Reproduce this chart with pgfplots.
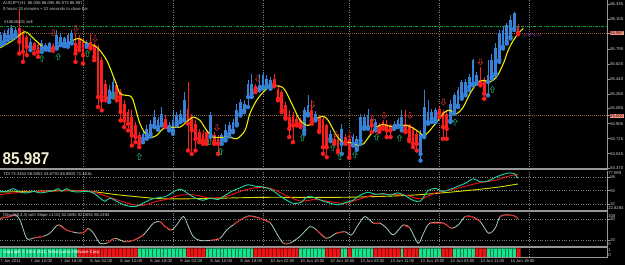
\documentclass[border=0pt]{standalone}
\usepackage{pgfplots}
\pgfplotsset{compat=1.18}
\usepackage{pgfplotstable}
\usepackage{fontspec}
\setmainfont{Liberation Sans}

\definecolor{bull}{RGB}{55,130,215}
\definecolor{bear}{RGB}{250,30,30}
\definecolor{ma}{RGB}{235,235,0}
\definecolor{sep}{RGB}{150,150,150}
\definecolor{gridc}{RGB}{130,130,130}
\definecolor{lbl}{RGB}{205,205,205}
\definecolor{tdigreen}{RGB}{30,215,165}
\definecolor{tdired}{RGB}{240,20,20}
\definecolor{tdiyellow}{RGB}{220,220,0}
\definecolor{stochc}{RGB}{165,205,180}
\definecolor{hgreen}{RGB}{20,228,140}
\definecolor{hred}{RGB}{240,20,20}
\definecolor{upc}{RGB}{30,150,90}
\definecolor{dnc}{RGB}{180,45,45}
\definecolor{levelc}{RGB}{150,90,50}
\definecolor{entry}{RGB}{20,160,60}
\definecolor{hilite}{RGB}{240,150,130}
\definecolor{cream}{RGB}{245,240,210}
\definecolor{purp}{RGB}{150,60,170}

\newcommand{\tinyf}{\fontsize{4.2}{4.6}\selectfont}

\pgfdeclareplotmark{uparr}{%
  \pgfpathmoveto{\pgfqpoint{0pt}{3.2pt}}%
  \pgfpathlineto{\pgfqpoint{2.3pt}{0.6pt}}%
  \pgfpathlineto{\pgfqpoint{0.9pt}{0.6pt}}%
  \pgfpathlineto{\pgfqpoint{0.9pt}{-3pt}}%
  \pgfpathlineto{\pgfqpoint{-0.9pt}{-3pt}}%
  \pgfpathlineto{\pgfqpoint{-0.9pt}{0.6pt}}%
  \pgfpathlineto{\pgfqpoint{-2.3pt}{0.6pt}}%
  \pgfpathclose\pgfusepathqstroke}
\pgfdeclareplotmark{dnarr}{%
  \pgfpathmoveto{\pgfqpoint{0pt}{-3.2pt}}%
  \pgfpathlineto{\pgfqpoint{2.3pt}{-0.6pt}}%
  \pgfpathlineto{\pgfqpoint{0.9pt}{-0.6pt}}%
  \pgfpathlineto{\pgfqpoint{0.9pt}{3pt}}%
  \pgfpathlineto{\pgfqpoint{-0.9pt}{3pt}}%
  \pgfpathlineto{\pgfqpoint{-0.9pt}{-0.6pt}}%
  \pgfpathlineto{\pgfqpoint{-2.3pt}{-0.6pt}}%
  \pgfpathclose\pgfusepathqstroke}

\pgfplotsset{mtaxis/.style={
  scale only axis, width=607.5pt, anchor=south west,
  xmin=-0.133, xmax=161.87,
  axis x line*=bottom, axis y line*=right,
  x axis line style={draw=sep, line width=1.6pt, -},
  y axis line style={draw=sep, line width=0.8pt, -},
  xtick=\empty,
  extra x ticks={22,46,70,93,117,141},
  extra x tick labels={},
  extra x tick style={grid=major, major tick length=0pt},
  major grid style={draw=gridc, line width=0.5pt, dash pattern=on 0.8pt off 1.6pt},
  tick align=outside, major tick length=2pt,
  tick style={draw=sep, line width=0.4pt},
  yticklabel style={font=\tinyf, text=lbl, inner sep=0.6pt},
  xticklabel style={font=\tinyf, text=lbl, inner sep=0.6pt},
}}

\pgfplotstableread{
x o h l c
0 85.863 86.003 85.843 85.963
1 85.883 86.023 85.863 85.983
2 85.943 86.043 85.903 86.023
3 85.963 86.083 85.923 86.043
4 85.975 86.063 85.943 86.023
8 85.823 85.923 85.783 85.883
11 85.803 85.903 85.763 85.863
12 85.815 85.863 85.791 85.843
13 85.815 85.883 85.783 85.863
15 85.823 86.023 85.803 85.963
16 85.871 85.983 85.843 85.943
17 85.863 85.943 85.831 85.923
18 85.863 85.983 85.823 85.963
19 85.883 86.023 85.863 85.983
23 85.843 85.903 85.823 85.883
29 85.203 85.363 85.163 85.303
30 85.263 85.443 85.223 85.403
38 84.723 84.823 84.683 84.783
39 84.763 84.883 84.723 84.843
40 84.783 84.943 84.751 84.903
41 84.883 85.063 84.863 84.983
42 84.863 84.983 84.831 84.943
43 84.903 85.103 84.883 85.023
45 84.843 84.923 84.823 84.883
46 84.823 85.063 84.783 84.943
47 84.903 85.043 84.883 85.003
48 84.943 85.063 84.923 85.023
49 84.963 85.283 84.943 85.183
56 84.763 85.043 84.743 85.003
59 84.703 84.791 84.663 84.763
60 84.723 84.903 84.703 84.823
61 84.783 84.923 84.751 84.883
62 84.823 84.963 84.803 84.923
63 84.903 85.143 84.883 85.063
64 85.023 85.203 85.003 85.163
65 85.063 85.183 85.043 85.143
66 85.223 85.423 85.103 85.383
67 85.263 85.503 85.223 85.383
69 85.323 85.503 85.303 85.363
70 85.343 85.523 85.323 85.483
71 85.363 85.483 85.343 85.443
72 85.343 85.463 85.323 85.423
81 84.823 85.103 84.783 85.063
82 85.023 85.243 85.003 85.123
84 84.963 85.055 84.943 85.023
88 84.723 84.823 84.695 84.783
91 84.663 84.903 84.543 84.843
94 84.663 84.775 84.643 84.743
95 84.623 84.751 84.591 84.723
96 84.703 85.023 84.663 84.983
97 84.863 85.015 84.843 84.983
98 84.863 85.083 84.843 85.003
100 84.843 84.963 84.823 84.923
105 84.863 84.935 84.843 84.903
106 84.883 84.975 84.863 84.943
107 84.863 85.063 84.823 84.983
112 84.543 84.823 84.463 84.783
113 84.763 85.303 84.743 85.103
114 84.923 85.183 84.903 85.043
115 84.963 85.083 84.923 85.043
116 84.943 85.095 84.923 85.063
120 84.943 85.183 84.923 85.143
121 85.043 85.271 85.023 85.243
122 85.123 85.343 85.103 85.303
123 85.223 85.431 85.203 85.403
124 85.263 85.443 85.243 85.403
125 85.343 85.503 85.303 85.463
126 85.383 85.683 85.363 85.663
127 85.403 85.523 85.383 85.483
130 85.403 85.663 85.243 85.483
131 85.463 85.743 85.443 85.663
132 85.503 85.863 85.483 85.803
133 85.663 86.023 85.643 85.983
134 85.823 86.063 85.803 86.023
135 85.883 86.103 85.863 86.083
136 85.943 86.203 85.923 86.143
137 86.043 86.243 86.023 86.223
}\bulltab

\pgfplotstableread{
x o h l c
5 86.043 86.263 85.743 85.883
6 85.983 86.023 85.643 85.763
7 85.943 85.963 85.723 85.823
9 85.863 85.883 85.743 85.803
10 85.843 85.883 85.703 85.763
14 85.843 85.863 85.775 85.803
20 85.863 85.983 85.643 85.743
21 85.923 85.963 85.783 85.823
22 85.883 85.923 85.623 85.723
24 85.883 85.983 85.803 85.831
25 85.843 85.863 85.663 85.703
26 85.823 85.843 85.103 85.223
27 85.663 85.703 85.063 85.183
28 85.383 85.423 85.183 85.223
31 85.363 85.403 85.183 85.223
32 85.283 85.323 84.943 85.043
33 85.143 85.183 84.863 84.943
34 85.043 85.083 84.823 84.903
35 84.983 85.063 84.643 84.763
36 84.883 84.923 84.683 84.743
37 84.763 84.803 84.623 84.663
44 84.963 85.003 84.863 84.883
50 85.083 85.403 84.583 84.903
51 84.983 85.023 84.543 84.823
52 84.903 84.943 84.583 84.723
53 84.803 84.843 84.683 84.723
54 84.783 84.823 84.663 84.703
55 84.803 84.843 84.663 84.695
57 84.763 84.803 84.663 84.683
58 84.723 84.763 84.543 84.663
68 85.351 85.383 85.283 85.311
73 85.443 85.503 85.351 85.375
74 85.323 85.363 85.183 85.203
75 85.283 85.303 85.043 85.063
76 85.123 85.163 84.963 84.983
77 84.983 85.063 84.743 84.843
78 85.003 85.043 84.683 84.883
79 84.963 84.991 84.883 84.903
80 84.943 84.975 84.863 84.883
83 85.063 85.183 84.903 84.943
85 84.983 85.003 84.803 84.823
86 84.963 84.991 84.543 84.623
87 84.883 84.903 84.503 84.623
89 84.723 84.751 84.663 84.683
90 84.723 84.783 84.563 84.583
92 84.743 84.775 84.663 84.683
93 84.723 84.763 84.495 84.503
99 84.963 84.991 84.803 84.883
101 84.883 84.911 84.803 84.823
102 84.923 84.951 84.843 84.863
103 84.903 84.943 84.743 84.823
104 84.883 84.903 84.743 84.823
108 84.903 85.063 84.803 84.823
109 84.883 84.903 84.695 84.723
110 84.843 84.863 84.623 84.663
111 84.783 84.815 84.583 84.663
117 85.083 85.103 84.983 85.023
118 85.043 85.063 84.723 84.863
119 85.023 85.063 84.723 84.843
128 85.423 85.583 85.363 85.383
129 85.423 85.463 85.203 85.263
138 86.056 86.095 85.973 85.987
}\beartab

\begin{document}
\begin{tikzpicture}
\path[use as bounding box] (0,0) rectangle (625pt,265pt);
\fill[black] (0,0) rectangle (625pt,265pt);

% ---------------- main price panel ----------------
\begin{axis}[mtaxis, at={(0pt,96pt)}, height=169pt,
  ymin=84.362, ymax=86.383,
  ytick={84.370,84.545,84.725,84.905,85.085,85.260,85.440,85.620,85.795,86.155,86.335},
  yticklabels={84.370,84.545,84.725,84.905,85.085,85.260,85.440,85.620,85.795,86.155,86.335},
  extra y ticks={85.000,85.987},
  extra y tick labels={85.000,85.987},
  extra y tick style={yticklabel style={fill=hilite, text=black!80!red, inner sep=0.5pt}},
]
\addplot[entry, line width=0.6pt, dash pattern=on 3pt off 1.2pt on 0.8pt off 1.2pt, forget plot] coordinates {(-0.133,86.072) (161.87,86.072)};
\addplot[levelc, line width=0.6pt, dash pattern=on 0.8pt off 1.2pt, forget plot] coordinates {(-0.133,85.987) (161.87,85.987)};
\addplot[levelc, line width=0.6pt, dash pattern=on 0.8pt off 1.2pt, forget plot] coordinates {(-0.133,85.000) (161.87,85.000)};
% wicks
\addplot[bull, only marks, mark=none, forget plot, error bars/.cd, y dir=plus, y explicit, error mark=none, error bar style={bull, line width=0.7pt}]
  table[x=x, y=l, y error plus expr=\thisrow{h}-\thisrow{l}] {\bulltab};
\addplot[bear, only marks, mark=none, forget plot, error bars/.cd, y dir=plus, y explicit, error mark=none, error bar style={bear, line width=0.7pt}]
  table[x=x, y=l, y error plus expr=\thisrow{h}-\thisrow{l}] {\beartab};
% bodies
\addplot[bull, only marks, mark=none, forget plot, error bars/.cd, y dir=plus, y explicit, error mark=none, error bar style={bull, line width=2.6pt}]
  table[x=x, y=o, y error plus expr=\thisrow{c}-\thisrow{o}] {\bulltab};
\addplot[bear, only marks, mark=none, forget plot, error bars/.cd, y dir=plus, y explicit, error mark=none, error bar style={bear, line width=2.6pt}]
  table[x=x, y=c, y error plus expr=\thisrow{o}-\thisrow{c}] {\beartab};
% moving average
\addplot[ma, line width=1.1pt, smooth, tension=0.5, mark=none] coordinates {
(-0.1,85.811) (3.4,85.903) (6.5,86.003) (8.8,85.923) (11.9,85.803) (14.5,85.815) (17.6,85.863) (20.8,85.923) (23,85.863) (25.6,85.823) (28.3,85.663) (30.5,85.423) (31.9,85.263) (33.6,85.243) (35.2,85.203) (37.2,84.903) (39.4,84.743) (41.6,84.763) (43.4,84.843) (46.1,84.863) (47.9,84.863) (50.1,84.943) (51.4,84.983) (53.2,84.943) (55,84.823) (56.8,84.743) (61.2,84.743) (63,84.723) (65.2,84.823) (66.5,85.023) (68.3,85.183) (70.1,85.283) (71.9,85.351) (74.5,85.351) (75.9,85.303) (78.1,85.103) (79.9,84.943) (82.1,84.883) (84.1,84.963) (86.1,84.991) (87.4,84.943) (89.6,84.763) (91.4,84.675) (92.8,84.683) (94.1,84.663) (95.4,84.643) (96.8,84.663) (98.5,84.763) (100.3,84.863) (102.1,84.895) (103.9,84.871) (108.3,84.883) (111,84.823) (112.8,84.763) (114.1,84.803) (116.3,84.923) (118.5,85.043) (119.9,85.063) (121.6,85.023) (123.4,85.103) (125.2,85.263) (127,85.383) (128.8,85.423) (130.5,85.403) (132.3,85.463) (134.1,85.623) (135.4,85.783) (136.8,85.903) (138.1,85.983) (139.4,86.043)};
% signal arrows
\addplot[dnc, only marks, mark=dnarr, mark options={line width=0.55pt}] coordinates {
(14.1,85.991) (20.1,86.043) (25.2,85.923) (57.7,84.855) (68.6,85.443) (83.2,85.131) (89.5,84.783) (93.2,84.763) (99.2,84.963) (102.3,85.003) (109.2,85.003) (118.1,85.163) (128,85.643)};
\addplot[upc, only marks, mark=uparr, mark options={line width=0.55pt}] coordinates {
(11,85.683) (15.4,85.703) (23.2,85.743) (30.1,85.231) (37,84.511) (55.7,84.691) (58.7,84.571) (80.5,84.735) (88.6,84.615) (90.5,84.511) (94.5,84.531) (100.3,84.743) (106.4,84.731) (121.2,84.923) (131.2,85.311)};
\end{axis}

% ---------------- TDI panel ----------------
\begin{axis}[mtaxis, at={(0pt,54.2pt)}, height=40.2pt,
  ymin=22.8284, ymax=77.089,
  ytick={32,50,68}, yticklabels={32,50,68}, ymajorgrids,
  extra y ticks={26.6,73.8}, extra y tick labels={22.8284,77.089},
  extra y tick style={grid=none, major tick length=0pt},
]
\addplot[tdiyellow, line width=0.9pt, smooth, mark=none] coordinates {
(-0.1,48.2) (8.8,49.1) (17.6,50) (23.9,49.1) (31,44.6) (38.1,41) (42.5,39.2) (50,39) (60,40) (70,41) (80,41) (90,41) (100,42) (110,44) (120,48) (128,52) (133,55) (138,59)};
\addplot[tdired, line width=0.9pt, smooth, mark=none] coordinates {
(-0.1,44.6) (3.4,46.9) (7,48.2) (12.3,49.1) (17.6,50) (23.9,49.1) (26.5,45.5) (31,37.8) (35.4,31.1) (38.1,30.2) (41.6,35.6) (44,38) (48,44) (52,44) (56,40) (60,42) (64,49) (68,54) (72,53) (76,44) (80,36) (84,38) (88,35) (92,33) (96,39) (100,45) (104,45) (108,44) (112,39) (116,47) (120,51) (124,56) (128,61) (132,64) (135,69) (138,72)};
\addplot[tdigreen, line width=0.9pt, smooth, mark=none] coordinates {
(-0.1,49.1) (1.6,49.1) (3.4,52.7) (5.2,48.2) (7,46.9) (8.8,49.1) (10.5,46.9) (12.3,48.2) (14.1,50) (15.4,52.7) (16.3,49.1) (17.6,52.7) (19,49.1) (20.8,48.2) (23,49.1) (24.8,46.9) (26.5,40.1) (27.9,35.6) (29.2,40.1) (31,35.6) (32.8,31.1) (34.5,28.9) (36.3,28.9) (38.1,33.4) (39.9,37.8) (41.6,40.1) (44,42) (46,48) (48,52) (50,46) (52,40) (54,37) (56,40) (58,38) (60,44) (62,50) (64,54) (66,58) (68,56) (70,55) (72,52) (74,45) (76,38) (78,33) (80,34) (82,42) (84,40) (86,36) (88,33) (90,31) (92,34) (94,37) (96,44) (98,48) (100,45) (102,46) (104,44) (106,47) (108,43) (110,37) (112,36) (114,50) (116,53) (118,49) (120,52) (122,56) (124,60) (126,66) (128,62) (130,63) (132,68) (134,72) (136,74) (137,73) (138,67)};
\end{axis}

% ---------------- Stochastic panel ----------------
\begin{axis}[mtaxis, at={(0pt,18pt)}, height=34.6pt,
  ymin=0, ymax=100,
  ytick={20,80}, yticklabels={20,80}, ymajorgrids,
  extra y ticks={9.5,90.7}, extra y tick labels={0,100},
  extra y tick style={grid=none, major tick length=0pt},
]
\addplot[stochc, line width=0.8pt, smooth, tension=0.5, mark=none] coordinates {
(-0.1,83) (2.5,88) (3.9,93) (5.2,78) (7,25) (8.8,26) (11.4,31) (13.2,40) (15.4,64) (17.6,49) (19,44) (21.2,40) (22.5,44) (23.4,54) (24.8,40) (26.5,11) (28.3,11) (30.5,25) (33.2,15) (35.4,19) (38.1,35) (40.8,69) (42.5,73) (43.9,59) (45.6,49) (47,64) (48.8,88) (50.1,59) (51.4,30) (53.2,19) (55.9,19) (58.5,25) (60.3,49) (62.1,64) (63.9,78) (66.3,90) (69.2,83) (71.9,70) (73.6,40) (75.4,11) (77.2,11) (79.9,31) (82.5,59) (84.3,49) (86.9,25) (89.6,40) (91.9,44) (93.6,35) (95.4,64) (97.2,88) (99.4,69) (101.2,69) (103,54) (104.8,35) (107.4,64) (109.2,54) (111.4,11) (112.8,40) (114.5,69) (118.1,69) (120.3,54) (122.1,64) (123.9,88) (125.6,88) (127.9,74) (130.1,40) (131.9,54) (133.2,88) (135,93) (137,90) (138,82)};
\addplot[hred, line width=0.8pt, mark=none, unbounded coords=jump] coordinates {
(-0.1,83) (2.5,88) (3.9,93) (3.9,nan)
(8.8,26) (11.4,31) (11.4,nan)
(15.4,64) (17.6,49) (19,44) (19,nan)
(21.2,40) (22.5,44) (23.4,54) (23.4,nan)
(28.3,11) (30.5,25) (30.5,nan)
(33.2,15) (35.4,19) (38.1,35) (38.1,nan)
(42.5,73) (43.9,59) (45.6,49) (45.6,nan)
(55.9,19) (58.5,25) (58.5,nan)
(62.1,64) (63.9,78) (66.3,90) (69.2,83) (71.9,70) (71.9,nan)
(75.4,11) (77.2,11) (77.2,nan)
(84.3,49) (86.9,25) (86.9,nan)
(89.6,40) (91.9,44) (91.9,nan)
(99.4,69) (101.2,69) (101.2,nan)
(107.4,64) (109.2,54) (109.2,nan)
(114.5,69) (118.1,69) (120.3,54) (120.3,nan)
(123.9,88) (125.6,88) (127.9,74) (127.9,nan)
(133.2,88) (135,93) (137,90) (138,82)};
\end{axis}

% ---------------- Histogram panel ----------------
\begin{axis}[mtaxis, at={(0pt,8pt)}, height=9pt,
  ymin=0, ymax=1,
  ytick=\empty,
  extra y ticks={0.22,0.78}, extra y tick labels={0,1},
  extra y tick style={grid=none, major tick length=0pt},
  x axis line style={draw=sep, line width=0.8pt, -},
  xtick={0,8,16,24,32,40,48,56,64,72,80,88,96,104,112,120,128,136},
  xticklabels={7 Jun 2011,7 Jun 10:00,7 Jun 18:00,8 Jun 02:00,8 Jun 10:00,8 Jun 18:00,9 Jun 02:00,9 Jun 10:00,9 Jun 18:00,10 Jun 02:00,10 Jun 10:00,10 Jun 18:00,13 Jun 03:00,13 Jun 11:00,13 Jun 19:00,14 Jun 03:00,14 Jun 11:00,14 Jun 19:00},
  xticklabel style={anchor=north west, xshift=-1pt},
  major tick length=1.5pt,
]
\addplot[ybar, bar shift=0pt, bar width=1, fill=hgreen, draw=hgreen!55!black, line width=0.25pt] coordinates {
(0,1)(1,1)(2,1)(3,1)(4,1)(5,1)(6,1)(7,1)(8,1)(9,1)(10,1)(11,1)(12,1)(13,1)(14,1)(15,1)(16,1)(17,1)(18,1)(19,1)(20,1)
(37,1)(38,1)(39,1)(40,1)(41,1)(42,1)(43,1)(44,1)(45,1)(46,1)(47,1)(48,1)(49,1)
(55,1)(56,1)(57,1)(58,1)(59,1)(60,1)(61,1)(62,1)(63,1)(64,1)(65,1)(66,1)(67,1)
(80,1)(81,1)(82,1)(83,1)(84,1)(85,1)(86,1)(91,1)(92,1)(94,1)(95,1)(96,1)(97,1)(98,1)(99,1)
(107,1)(112,1)(113,1)(114,1)(115,1)(116,1)(117,1)(121,1)(122,1)(123,1)(124,1)(125,1)(126,1)
(130,1)(131,1)(132,1)(133,1)(134,1)(135,1)(136,1)(137,1)};
\addplot[ybar, bar shift=0pt, bar width=1, fill=hred, draw=hred!60!black, line width=0.25pt] coordinates {
(21,1)(22,1)(23,1)(24,1)(25,1)(26,1)(27,1)(28,1)(29,1)(30,1)(31,1)(32,1)(33,1)(34,1)(35,1)(36,1)
(50,1)(51,1)(52,1)(53,1)(54,1)(68,1)(69,1)(70,1)(71,1)(72,1)(73,1)(74,1)(75,1)(76,1)(77,1)(78,1)(79,1)
(87,1)(88,1)(89,1)(90,1)(93,1)(100,1)(101,1)(102,1)(103,1)(104,1)(105,1)(106,1)(108,1)(109,1)(110,1)(111,1)
(118,1)(119,1)(120,1)(127,1)(128,1)(129,1)(138,1)};
\node[anchor=west, inner sep=0pt, font=\tinyf, text=white] at (rel axis cs:0.004,0.5) {Copyright \textcopyright\ 2001-2011, MetaQuotes Software Corp.};
\end{axis}

% ---------------- texts ----------------
\node[anchor=north west, inner sep=0pt, font=\tinyf, text=lbl] at (3pt,263.5pt) {AUDJPY,H1\enspace 86.056 86.095 85.973 85.987};
\node[anchor=north west, inner sep=0pt, font=\tinyf, text=lbl] at (3pt,258pt) {0 hours 33 minutes + 22 seconds to close bar};
\node[anchor=north west, inner sep=0pt, font=\tinyf, text=lbl] at (4pt,244.5pt) {\#10645401 sell};
\node[anchor=north west, inner sep=0pt, font=\tinyf, text=purp] at (522pt,231.5pt) {-0.37\% ==};
\node[anchor=south west, inner sep=0pt, xscale=0.9, font=\bfseries\fontsize{17}{17}\selectfont, text=cream] at (2.5pt,100pt) {85.987};
\node[anchor=north west, inner sep=0pt, font=\tinyf, text=lbl] at (3pt,92.5pt) {TDI 73.3454 58.5852 43.6730 68.8800 71.4616};
\node[anchor=north west, inner sep=0pt, font=\tinyf, text=lbl] at (3pt,51.5pt) {[Stoch(8,3,3) with Slope v1.01] 82.0692 82.0692 86.2494};
\end{tikzpicture}
\end{document}
